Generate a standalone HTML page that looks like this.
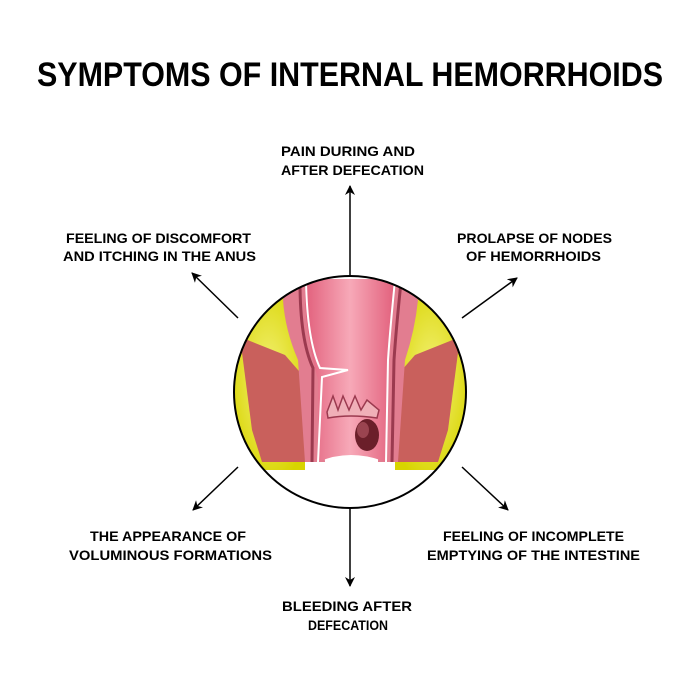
<!DOCTYPE html>
<html><head><style>body{margin:0;background:#fff}svg{display:block}</style></head><body>
<svg width="700" height="700" viewBox="0 0 700 700" xmlns="http://www.w3.org/2000/svg">
<defs>
<marker id="ah" viewBox="0 0 10 10" refX="9" refY="5" markerWidth="10" markerHeight="10" markerUnits="userSpaceOnUse" orient="auto"><path d="M0,0 L10,5 L0,10 L3,5 z" fill="#000"/></marker>
<clipPath id="cc"><circle cx="350" cy="392" r="116"/></clipPath>
<radialGradient id="fat" cx="50%" cy="50%" r="60%"><stop offset="0" stop-color="#f4f27a"/><stop offset="1" stop-color="#d8d400"/></radialGradient>
<linearGradient id="lum" x1="0" x2="1"><stop offset="0" stop-color="#e2607c"/><stop offset="0.5" stop-color="#f7a9b8"/><stop offset="1" stop-color="#e2607c"/></linearGradient>
</defs>
<g font-family="'Liberation Sans',sans-serif" font-weight="bold" fill="#000">
<text x="37" y="86" font-size="34" textLength="626" lengthAdjust="spacingAndGlyphs">SYMPTOMS OF INTERNAL HEMORRHOIDS</text>
<g font-size="14">
<text x="281" y="156" textLength="134" lengthAdjust="spacingAndGlyphs">PAIN DURING AND</text>
<text x="281" y="175" textLength="143" lengthAdjust="spacingAndGlyphs">AFTER DEFECATION</text>
<text x="66" y="243" textLength="185" lengthAdjust="spacingAndGlyphs">FEELING OF DISCOMFORT</text>
<text x="63" y="261" textLength="193" lengthAdjust="spacingAndGlyphs">AND ITCHING IN THE ANUS</text>
<text x="457" y="243" textLength="155" lengthAdjust="spacingAndGlyphs">PROLAPSE OF NODES</text>
<text x="466" y="261" textLength="135" lengthAdjust="spacingAndGlyphs">OF HEMORRHOIDS</text>
<text x="90" y="541" textLength="156" lengthAdjust="spacingAndGlyphs">THE APPEARANCE OF</text>
<text x="69" y="560" textLength="203" lengthAdjust="spacingAndGlyphs">VOLUMINOUS FORMATIONS</text>
<text x="443" y="541" textLength="181" lengthAdjust="spacingAndGlyphs">FEELING OF INCOMPLETE</text>
<text x="427" y="560" textLength="213" lengthAdjust="spacingAndGlyphs">EMPTYING OF THE INTESTINE</text>
<text x="282" y="611" textLength="130" lengthAdjust="spacingAndGlyphs">BLEEDING AFTER</text>
<text x="308" y="630" textLength="80" lengthAdjust="spacingAndGlyphs">DEFECATION</text>
</g></g>
<g stroke="#000" stroke-width="1.5" fill="none" marker-end="url(#ah)">
<line x1="350" y1="275" x2="350" y2="186"/>
<line x1="350" y1="509" x2="350" y2="586"/>
<line x1="238" y1="318" x2="192" y2="273"/>
<line x1="462" y1="318" x2="517" y2="278"/>
<line x1="238" y1="467" x2="193" y2="510"/>
<line x1="462" y1="467" x2="508" y2="510"/>
</g>
<g clip-path="url(#cc)">
<path d="M232,330 Q255,300 295,288 L305,288 L305,470 L260,470 Q240,460 232,445 Z" fill="url(#fat)"/>
<path d="M468,330 Q445,300 405,288 L395,288 L395,470 L440,470 Q460,460 468,445 Z" fill="url(#fat)"/>
<path d="M240,337 L285,355 L305,378 L313,462 L262,462 L252,430 Z" fill="#c9605c"/>
<path d="M460,337 L415,355 L395,378 L387,462 L438,462 L448,430 Z" fill="#c9605c"/>
<path d="M290,282 L312,280 L318,330 L325,462 L305,462 L298,360 Q285,330 283,300 Z" fill="#e27d90"/>
<path d="M410,282 L388,280 L382,330 L378,462 L398,462 L405,360 Q415,330 418,300 Z" fill="#e27d90"/>
<path d="M305,279 L395,279 Q392,310 389,340 L386,462 Q350,448 318,462 L318,380 Q307,340 305,300 Z" fill="url(#lum)"/>
<path d="M306,280 Q307,340 320,368 L348,370 L322,377 L318,462" fill="none" stroke="#fff" stroke-width="2"/>
<path d="M395,280 Q390,330 388,360 L386,462" fill="none" stroke="#fff" stroke-width="2"/>
<path d="M300,282 Q300,340 313,368 L312,462" fill="none" stroke="#9b3a4f" stroke-width="3"/>
<path d="M401,282 Q396,330 394,360 L392,462" fill="none" stroke="#9b3a4f" stroke-width="3"/>
<path d="M327,412 L333,396 L338,410 L343,396 L349,410 L355,396 L361,410 L367,400 L379,410 L377,418 Q350,414 328,418 Z" fill="#f0b0b8" stroke="#9b3a4f" stroke-width="1.5"/>
<ellipse cx="367" cy="435" rx="12" ry="16" fill="#6b1f2a"/>
<ellipse cx="363" cy="430" rx="6" ry="8" fill="#9a4450"/>
</g>
<circle cx="350" cy="392" r="116" fill="none" stroke="#000" stroke-width="2"/>
</svg>
</body></html>
